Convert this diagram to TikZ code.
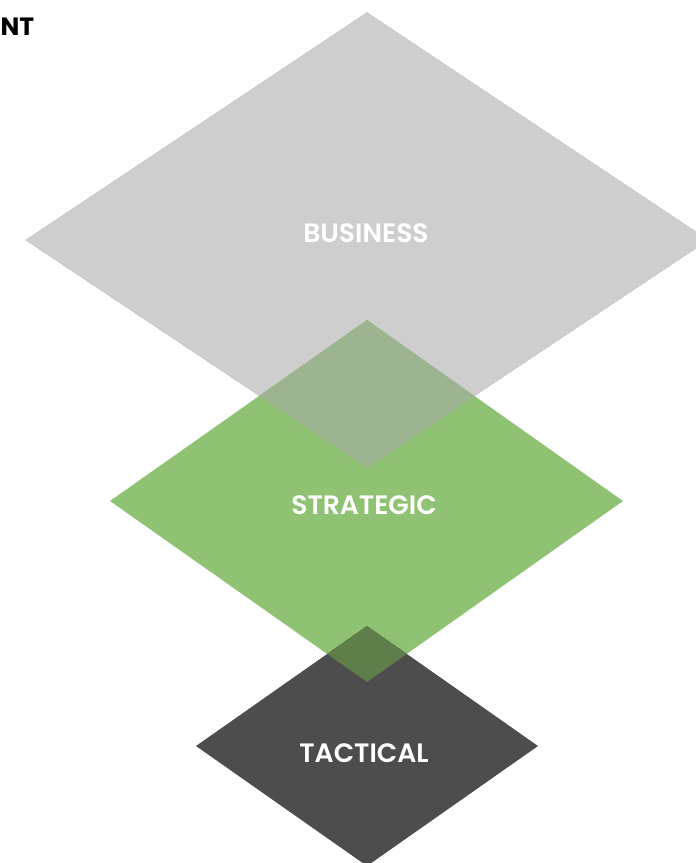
\documentclass[tikz,border=0pt]{standalone}
\usepackage{fontspec}
\newfontfamily\labfont{Poppins}[UprightFont=* SemiBold, BoldFont=* Bold]
\definecolor{bizgray}{HTML}{CECECE}
\definecolor{stratgreen}{HTML}{8FC373}
\definecolor{tactdark}{HTML}{4D4D4D}
\definecolor{overA}{HTML}{9DB490}
\definecolor{overB}{HTML}{5F7F4A}
\begin{document}
\begin{tikzpicture}[x=1pt,y=-1pt,
  lab/.style={text=white,font=\labfont\fontsize{26.6}{31}\selectfont,inner sep=0pt}]
\useasboundingbox (0,0) rectangle (696,863);
\clip (0,0) rectangle (696,863);
% diamonds
\path[fill=bizgray] (367,12) -- (709,240) -- (367,468) -- (25,240) -- cycle;
\path[fill=stratgreen] (367,320) -- (623,501) -- (367,682) -- (110,501) -- cycle;
\path[fill=tactdark] (367,626) -- (538,746) -- (367,866) -- (196,746) -- cycle;
% overlaps
\begin{scope}
  \clip (367,12) -- (709,240) -- (367,468) -- (25,240) -- cycle;
  \path[fill=overA] (367,320) -- (623,501) -- (367,682) -- (110,501) -- cycle;
\end{scope}
\begin{scope}
  \clip (367,320) -- (623,501) -- (367,682) -- (110,501) -- cycle;
  \path[fill=overB] (367,626) -- (538,746) -- (367,866) -- (196,746) -- cycle;
\end{scope}
% labels
\node[lab] (business) at (366,233) {BUSINESS};
\node[lab] (strategic) at (364,505) {STRATEGIC};
\node[lab] (tactical) at (364,753) {TACTICAL};
\node[font=\labfont\bfseries\fontsize{25}{30}\selectfont,anchor=west,inner sep=0pt] (cut) at (0.5,27) {NT};
\end{tikzpicture}
\end{document}
